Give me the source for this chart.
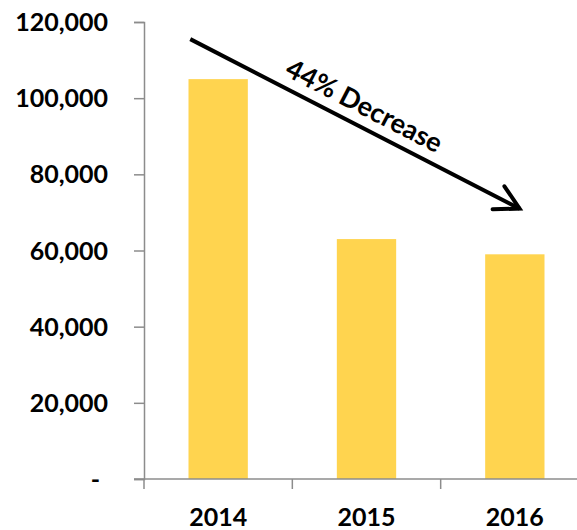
<!DOCTYPE html>
<html>
<head>
<meta charset="utf-8">
<script src="https://cdn.jsdelivr.net/npm/d3@7"></script>
<style>
  body { margin: 0; background: #fff; }
  .axis text { font-family: Lato, sans-serif; font-weight: 700; fill: #000; }
</style>
</head>
<body>
<div id="chart"></div>
<script>
// data
const years = ['2014', '2015', '2016']
const values = [105000, 63000, 59000]
const yTicks = [0, 20000, 40000, 60000, 80000, 100000, 120000]
const annotation = '44% Decrease'

const dimensions = {
  width: 577,
  height: 530,
  marginLeft: 144,
  marginTop: 22,
  marginRight: -12,
  marginBottom: 51,
}
dimensions.ctrWidth = dimensions.width - dimensions.marginLeft - dimensions.marginRight
dimensions.ctrHeight = dimensions.height - dimensions.marginTop - dimensions.marginBottom

const svg = d3
  .select('#chart')
  .append('svg')
  .attr('width', dimensions.width)
  .attr('height', dimensions.height)

const ctr = svg
  .append('g')
  .attr('transform', `translate(${dimensions.marginLeft}, ${dimensions.marginTop})`)

// scales
const xScale = d3
  .scaleBand()
  .domain(years)
  .range([0, dimensions.ctrWidth])
  .paddingInner(0.6)
  .paddingOuter(0.3)

// band step used for the category tick marks
const step = xScale.step()

const yScale = d3
  .scaleLinear()
  .domain([0, 120000])
  .range([dimensions.ctrHeight, 0])

// bars
ctr
  .selectAll('rect')
  .data(values)
  .join('rect')
  .attr('x', (d, i) => xScale(years[i]))
  .attr('y', (d) => yScale(d))
  .attr('width', xScale.bandwidth())
  .attr('height', (d) => dimensions.ctrHeight - yScale(d))
  .attr('fill', '#FFD44F')

// y axis
const yAxis = d3
  .axisLeft(yScale)
  .tickValues(yTicks)
  .tickSize(10)
  .tickPadding(26)
  .tickFormat((d) => (d === 0 ? '-' : d3.format(',')(d)))

const yAxisGroup = ctr.append('g').call(yAxis).classed('axis', true)
yAxisGroup.select('.domain').attr('stroke', '#8c8c8c').attr('stroke-width', 1.5)
yAxisGroup.selectAll('.tick line').attr('stroke', '#8c8c8c').attr('stroke-width', 1.5)
yAxisGroup.selectAll('.tick text').style('font-size', '25px').attr('dy', '0.34em')
yAxisGroup
  .selectAll('.tick')
  .filter((d) => d === 0)
  .select('text')
  .attr('x', -44)

// x axis: tick marks between categories
const xGroup = ctr
  .append('g')
  .attr('transform', `translate(0, ${dimensions.ctrHeight})`)
  .classed('axis', true)

xGroup
  .append('line')
  .attr('x1', -10)
  .attr('x2', dimensions.ctrWidth)
  .attr('stroke', '#8c8c8c')
  .attr('stroke-width', 1.5)

xGroup
  .selectAll('.cat-tick')
  .data(years.concat(['end']))
  .join('line')
  .classed('cat-tick', true)
  .attr('x1', (d, i) => i * step)
  .attr('x2', (d, i) => i * step)
  .attr('y1', 0)
  .attr('y2', 10)
  .attr('stroke', '#8c8c8c')
  .attr('stroke-width', 1.5)

xGroup
  .selectAll('.cat-label')
  .data(years)
  .join('text')
  .classed('cat-label', true)
  .attr('x', (d) => xScale(d) + xScale.bandwidth() / 2)
  .attr('y', 47)
  .attr('text-anchor', 'middle')
  .style('font-size', '25px')
  .text((d) => d)

// annotation arrow
const x0 = xScale(years[0]) + xScale.bandwidth() * 0.03
const y0 = yScale(115500)
const x1 = xScale(years[2]) + xScale.bandwidth() * 0.58
const y1 = yScale(71000)
const angle = Math.atan2(y1 - y0, x1 - x0)

const ann = ctr.append('g')

ann
  .append('line')
  .attr('x1', x0)
  .attr('y1', y0)
  .attr('x2', x1)
  .attr('y2', y1)
  .attr('stroke', '#000')
  .attr('stroke-width', 4)

// open chevron head
const headLen = 27
const spread = 0.5
ann
  .append('path')
  .attr(
    'd',
    `M${x1 - headLen * Math.cos(angle - spread)},${y1 - headLen * Math.sin(angle - spread)}` +
      `L${x1},${y1}` +
      `L${x1 - headLen * Math.cos(angle + spread)},${y1 - headLen * Math.sin(angle + spread)}`
  )
  .attr('fill', 'none')
  .attr('stroke', '#000')
  .attr('stroke-width', 4)
  .attr('stroke-linecap', 'round')

const mx = x0 + (x1 - x0) * 0.5
const my = y0 + (y1 - y0) * 0.5
ann
  .append('text')
  .attr('transform', `translate(${mx}, ${my}) rotate(${(angle * 180) / Math.PI})`)
  .attr('y', -11)
  .attr('text-anchor', 'middle')
  .style('font-family', 'Lato, sans-serif')
  .style('font-weight', 700)
  .style('font-size', '27px')
  .text(annotation)
</script>
</body>
</html>
